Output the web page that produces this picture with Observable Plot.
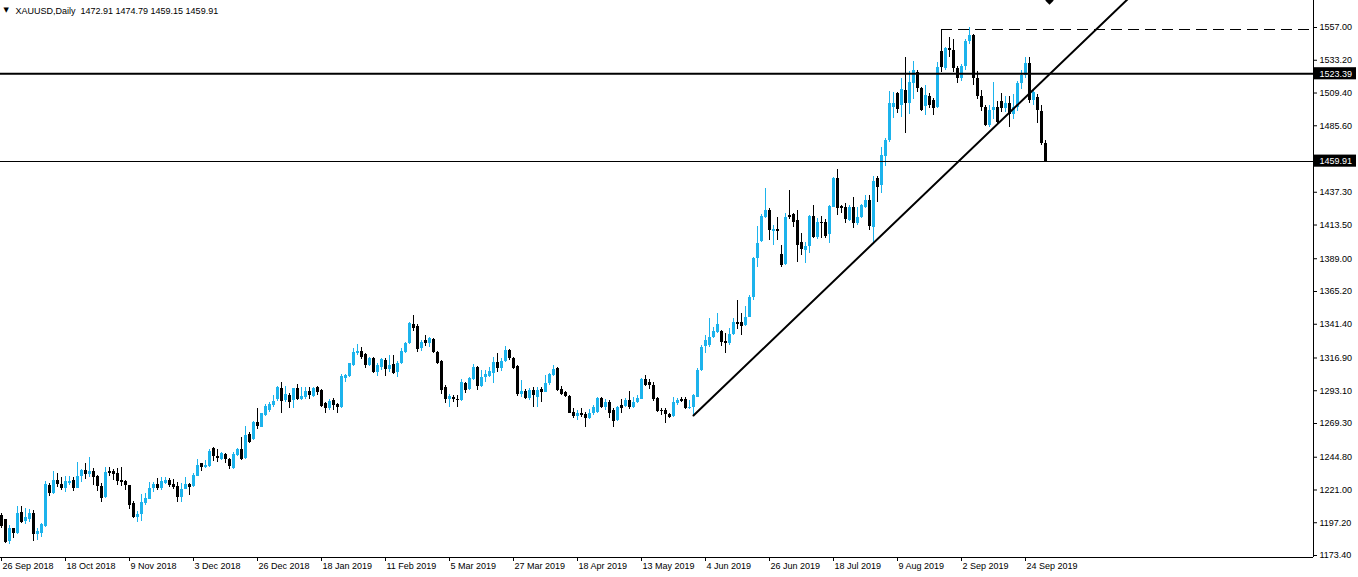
<!DOCTYPE html>
<html><head><meta charset="utf-8">
<script src="https://cdn.jsdelivr.net/npm/d3@7"></script>
<script src="https://cdn.jsdelivr.net/npm/@observablehq/plot@0.6"></script>
<style>
html,body{margin:0;padding:0;background:#fff;overflow:hidden;}
</style></head><body><div id="chart"></div>
<script>
// ---- data ----
const symbolName = "XAUUSD,Daily";
const tickBars = [0,16,32,48,64,80,96,112,128,144,160,176,192,208,224,240,256];
const tickLabels = ["26 Sep 2018","18 Oct 2018","9 Nov 2018","3 Dec 2018","26 Dec 2018","18 Jan 2019","11 Feb 2019","5 Mar 2019","27 Mar 2019","18 Apr 2019","13 May 2019","4 Jun 2019","26 Jun 2019","18 Jul 2019","9 Aug 2019","2 Sep 2019","24 Sep 2019"];
const yTicks = [1557.00,1533.20,1509.40,1485.60,1437.30,1413.50,1389.00,1365.20,1341.40,1316.90,1293.10,1269.30,1244.80,1221.00,1197.20,1173.40];

const open = [1202.5,1199.4,1183.9,1193.1,1189.2,1204.7,1198.4,1199.8,1204.2,1188.5,
1189.7,1194.8,1224.3,1218.2,1227.9,1224.8,1222.4,1225.5,1227.9,1222.4,
1230.8,1235.2,1232.3,1234.5,1230.8,1223.8,1215.6,1234.7,1234.7,1233.0,
1227.9,1227.2,1224.1,1211.5,1201.3,1203.5,1211.5,1214.4,1222.4,1224.8,
1221.9,1226.0,1227.9,1224.8,1223.6,1215.3,1221.4,1225.0,1223.8,1231.1,
1240.0,1237.4,1238.1,1251.2,1245.4,1242.9,1246.8,1243.4,1236.4,1246.1,
1250.4,1243.7,1261.4,1257.5,1269.8,1266.7,1275.1,1278.8,1282.4,1286.5,
1294.5,1286.0,1289.7,1286.0,1294.5,1287.0,1288.0,1292.8,1289.2,1295.2,
1293.3,1284.1,1280.0,1286.0,1283.1,1280.7,1301.8,1303.5,1311.5,1320.4,
1321.9,1319.5,1311.5,1316.3,1306.6,1310.3,1315.1,1308.3,1312.2,1306.6,
1312.7,1321.2,1327.2,1341.3,1339.8,1323.6,1329.6,1327.2,1330.1,1321.2,
1314.4,1295.2,1286.5,1288.5,1286.5,1286.0,1298.6,1293.8,1301.1,1310.3,
1296.2,1302.5,1303.5,1305.9,1313.4,1309.0,1314.6,1322.4,1316.3,1310.7,
1290.4,1292.8,1287.3,1293.3,1288.5,1293.8,1292.1,1298.1,1304.2,1309.0,
1293.8,1292.1,1289.2,1277.6,1274.4,1276.4,1275.9,1272.7,1276.4,1277.6,
1287.3,1281.2,1284.8,1278.8,1271.5,1282.4,1281.7,1286.0,1281.2,1284.8,
1286.8,1301.1,1299.4,1296.9,1287.3,1278.8,1278.8,1275.9,1274.4,1283.6,
1287.0,1286.5,1280.0,1280.7,1288.5,1307.8,1325.2,1325.9,1331.5,1335.6,
1336.1,1328.8,1327.1,1333.9,1342.6,1342.6,1340.4,1346.5,1360.6,1388.9,
1401.7,1419.2,1424.0,1409.0,1410.0,1392.0,1384.8,1420.4,1421.1,1416.7,
1401.0,1394.9,1397.9,1419.7,1404.1,1415.5,1415.5,1406.6,1426.4,1447.0,
1426.9,1426.4,1416.7,1426.4,1414.3,1419.2,1426.4,1431.3,1411.9,1447.0,
1442.2,1463.2,1474.9,1499.1,1509.3,1500.3,1511.2,1502.0,1516.0,1524.0,
1512.5,1499.6,1506.9,1504.0,1498.6,1539.6,1527.0,1542.0,1540.0,1527.0,
1520.0,1529.0,1547.0,1551.0,1520.0,1507.0,1499.0,1486.0,1497.0,1499.0,
1503.0,1498.0,1502.0,1494.0,1499.0,1516.0,1522.0,1531.0,1504.0,1506.0,
1496.0,1472.91];

const high = [1203.7,1199.6,1195.2,1193.3,1209.0,1209.0,1207.8,1206.6,1206.1,1192.8,
1196.5,1227.0,1225.5,1234.5,1232.8,1230.4,1230.8,1230.8,1230.4,1241.0,
1235.7,1240.0,1244.4,1236.9,1231.6,1225.5,1237.6,1237.1,1236.2,1236.9,
1237.1,1227.9,1224.6,1212.7,1205.7,1217.8,1218.2,1226.7,1226.2,1229.1,
1230.4,1229.9,1229.4,1228.9,1226.5,1225.5,1229.9,1226.0,1232.8,1243.0,
1240.4,1242.5,1250.5,1252.2,1250.2,1248.5,1247.3,1243.9,1248.5,1250.9,
1259.4,1267.2,1263.0,1271.0,1280.0,1276.8,1283.1,1284.8,1289.7,1296.2,
1299.4,1296.2,1291.4,1295.0,1297.7,1295.7,1295.7,1295.2,1295.2,1296.2,
1293.8,1284.8,1286.5,1287.3,1284.1,1304.9,1304.9,1313.2,1323.6,1326.7,
1324.3,1320.4,1317.5,1317.1,1312.7,1316.3,1316.3,1318.7,1318.7,1314.6,
1323.6,1328.4,1343.0,1347.8,1341.3,1329.6,1333.3,1332.1,1330.8,1321.9,
1315.1,1296.9,1290.4,1289.7,1289.7,1301.1,1299.4,1303.0,1312.2,1310.7,
1307.8,1307.8,1310.3,1317.5,1320.4,1316.3,1325.3,1322.9,1317.1,1311.2,
1300.6,1293.8,1294.5,1295.2,1295.2,1295.2,1304.2,1305.9,1311.2,1310.3,
1296.2,1292.8,1289.7,1280.0,1278.8,1280.0,1277.6,1279.3,1282.4,1288.0,
1288.0,1286.5,1286.0,1280.0,1281.7,1286.5,1287.3,1292.8,1288.5,1289.7,
1301.8,1304.2,1301.1,1299.4,1288.5,1280.0,1280.0,1276.4,1288.0,1287.3,
1288.0,1288.0,1286.0,1290.4,1309.0,1326.0,1333.2,1345.3,1339.2,1348.9,
1336.8,1334.4,1338.0,1345.3,1358.6,1348.9,1354.3,1362.2,1390.1,1412.4,
1421.1,1439.8,1425.2,1413.1,1418.7,1398.6,1421.6,1438.5,1422.1,1424.0,
1407.5,1401.0,1420.4,1427.6,1417.9,1419.7,1417.2,1427.6,1448.2,1453.6,
1427.6,1429.3,1427.6,1433.7,1426.4,1428.4,1434.9,1434.9,1448.7,1448.7,
1470.0,1476.1,1510.7,1510.0,1510.0,1519.7,1535.4,1525.0,1532.0,1526.0,
1513.7,1514.9,1508.8,1505.2,1531.8,1555.6,1542.5,1550.0,1548.0,1529.0,
1530.0,1548.0,1557.0,1552.0,1525.0,1511.0,1500.0,1500.0,1517.0,1503.0,
1509.0,1507.0,1507.0,1508.0,1518.0,1526.0,1535.0,1535.0,1512.0,1508.0,
1500.0,1474.79];

const low = [1192.8,1181.9,1181.4,1185.5,1188.8,1196.9,1196.0,1197.7,1183.9,1184.3,
1186.3,1194.0,1216.6,1217.8,1223.1,1220.7,1219.2,1224.3,1220.2,1222.0,
1226.2,1228.9,1230.4,1224.3,1220.2,1212.2,1214.6,1230.8,1227.9,1224.3,
1223.8,1220.7,1206.9,1200.6,1197.2,1198.4,1209.8,1214.0,1219.5,1220.7,
1220.7,1225.0,1223.1,1221.6,1212.2,1211.7,1221.0,1217.3,1223.1,1230.8,
1234.5,1236.9,1237.6,1241.8,1241.2,1242.4,1240.5,1235.7,1236.0,1245.4,
1242.4,1243.2,1254.6,1257.0,1264.7,1266.2,1274.4,1277.6,1281.2,1285.3,
1276.4,1284.8,1280.0,1280.0,1286.0,1286.0,1286.5,1286.5,1288.5,1289.7,
1281.2,1276.8,1278.8,1278.8,1276.8,1280.2,1299.4,1303.0,1310.7,1318.7,
1315.6,1309.0,1310.7,1305.9,1303.5,1307.8,1303.5,1306.6,1304.9,1303.0,
1312.2,1320.4,1326.7,1336.4,1321.2,1321.9,1325.3,1324.8,1320.4,1312.2,
1290.4,1283.6,1281.2,1284.8,1281.2,1285.6,1290.9,1293.3,1300.6,1293.3,
1295.7,1299.4,1302.5,1298.6,1306.6,1307.4,1313.9,1315.1,1308.3,1288.9,
1288.5,1286.5,1286.0,1281.2,1281.2,1284.8,1291.6,1296.9,1303.5,1292.8,
1289.7,1288.0,1276.4,1272.7,1271.5,1273.9,1266.7,1272.0,1275.1,1276.4,
1280.0,1278.8,1272.7,1266.7,1271.0,1276.4,1280.7,1279.3,1280.0,1283.6,
1286.5,1296.2,1293.8,1285.6,1277.6,1275.1,1269.6,1272.7,1273.5,1282.4,
1284.8,1279.3,1279.3,1275.1,1288.0,1307.3,1320.4,1324.7,1330.8,1334.4,
1325.2,1320.3,1325.9,1333.2,1337.3,1333.2,1340.0,1346.0,1358.6,1382.8,
1401.0,1418.0,1402.2,1398.6,1402.2,1382.4,1384.0,1417.2,1411.9,1386.5,
1391.3,1385.7,1392.5,1403.4,1402.7,1403.4,1403.4,1400.3,1425.9,1420.4,
1422.1,1414.3,1416.3,1410.7,1413.1,1418.0,1425.2,1409.5,1400.3,1430.1,
1436.6,1456.0,1473.7,1490.6,1494.7,1491.8,1479.7,1494.0,1505.0,1510.0,
1496.0,1493.1,1497.9,1493.1,1497.9,1524.0,1526.0,1535.0,1524.0,1516.0,
1518.0,1526.0,1545.0,1515.0,1505.0,1496.0,1485.0,1484.0,1490.0,1486.0,
1495.0,1495.0,1484.0,1490.0,1496.0,1512.0,1520.0,1502.0,1500.0,1487.0,
1471.0,1459.15];

const close = [1194.5,1183.1,1193.3,1189.2,1203.7,1197.7,1201.3,1204.2,1188.5,1190.9,
1196.0,1225.0,1218.7,1227.9,1224.8,1221.9,1227.5,1227.5,1222.4,1230.8,
1235.2,1232.3,1234.7,1230.4,1223.8,1215.1,1233.7,1233.3,1232.3,1227.5,
1226.7,1224.1,1209.8,1201.3,1203.2,1212.0,1214.6,1222.1,1224.8,1222.4,
1227.2,1227.9,1224.3,1222.6,1215.8,1221.2,1224.8,1222.6,1231.6,1239.1,
1237.6,1238.8,1249.0,1245.4,1243.7,1247.3,1242.9,1238.3,1246.8,1250.4,
1243.2,1260.6,1255.8,1270.3,1267.2,1276.4,1281.7,1283.1,1285.3,1295.2,
1285.3,1290.4,1284.8,1294.5,1286.5,1288.9,1292.8,1289.7,1294.5,1292.1,
1281.7,1280.0,1285.3,1282.4,1280.7,1303.5,1304.2,1312.7,1320.7,1321.9,
1317.5,1311.5,1316.3,1306.6,1311.5,1315.6,1308.3,1311.5,1305.9,1313.2,
1321.9,1327.7,1342.2,1338.1,1322.8,1328.4,1327.2,1330.8,1321.2,1313.2,
1293.3,1286.5,1289.2,1286.5,1286.0,1299.4,1293.3,1301.8,1310.3,1296.2,
1302.5,1304.9,1307.4,1313.4,1309.5,1314.6,1322.4,1316.3,1309.0,1290.4,
1292.8,1287.3,1293.3,1289.7,1293.3,1292.1,1298.6,1304.9,1308.3,1293.3,
1290.4,1288.9,1276.8,1274.4,1276.8,1275.1,1272.7,1276.8,1281.2,1287.3,
1281.2,1284.8,1276.8,1271.0,1280.7,1280.0,1286.0,1281.2,1284.8,1287.3,
1301.1,1296.9,1296.9,1286.5,1278.3,1278.3,1275.9,1273.9,1284.8,1286.0,
1285.6,1280.0,1281.2,1289.7,1307.8,1324.8,1329.6,1331.5,1336.3,1340.9,
1328.3,1327.1,1333.9,1342.9,1341.2,1340.0,1346.5,1361.0,1388.9,1400.3,
1419.7,1424.0,1409.5,1410.0,1409.0,1384.0,1418.7,1418.7,1415.5,1398.6,
1395.4,1397.9,1419.7,1404.1,1415.5,1414.3,1405.1,1426.9,1447.0,1425.2,
1425.2,1417.2,1426.4,1414.3,1419.2,1427.6,1431.3,1412.4,1445.3,1441.0,
1464.0,1474.9,1502.0,1502.0,1497.2,1511.7,1501.5,1517.0,1526.0,1513.0,
1496.7,1507.6,1500.3,1497.9,1528.0,1527.7,1542.0,1540.0,1527.0,1520.0,
1529.0,1547.0,1551.0,1520.0,1507.0,1499.0,1486.0,1497.0,1499.0,1488.0,
1498.0,1502.0,1494.0,1499.0,1516.0,1522.0,1531.0,1504.0,1510.0,1497.0,
1472.5,1459.91];

// drawn objects (price levels / trend line / arrow)
const levelThick = 1523.39;
const levelThin = 1459.91;
const levelDashed = 1555.6;
const dashStartBar = 235;
const trendBars = [173, 285];
const trendPrices = [1275.1, 1587.2];
const arrowBar = 262;

// ---- chart ----
const W = 1358, H = 577;
const xDomain = [-0.25, 328];
const yDomain = [1171.95, 1576.62];
const xMax = xDomain[1];
const bull = "#1cb3ec", bear = "#000000";
const FONT = "Liberation Sans, Arial, sans-serif";

const bars = open.map((o, i) => {
  const c = close[i];
  let lo = Math.min(o, c), hi = Math.max(o, c);
  if (hi - lo < 0.75) hi = lo + 0.75;
  return {i, o, h: high[i], l: low[i], c, lo, hi, up: c > o};
});
const last = bars[bars.length - 1];
const titleText = `${symbolName}  ${last.o.toFixed(2)} ${last.h.toFixed(2)} ${last.l.toFixed(2)} ${last.c.toFixed(2)}`;
const levels = [levelThick, levelThin];
const trend = trendBars.map((b, k) => ({b, p: trendPrices[k]}));

const chart = Plot.plot({
  width: W, height: H,
  marginLeft: 0, marginRight: 45, marginTop: 0, marginBottom: 20,
  x: {type: "linear", domain: xDomain, axis: null},
  y: {type: "linear", domain: yDomain, axis: null},
  style: {background: "#ffffff", fontFamily: FONT, fontSize: "9px", color: "#000"},
  marks: [
    // wicks
    Plot.ruleX(bars, {x: "i", y1: "l", y2: "h", stroke: d => d.up ? bull : bear, strokeWidth: 1, shapeRendering: "crispEdges"}),
    // bodies
    Plot.ruleX(bars, {x: "i", y1: "lo", y2: "hi", stroke: d => d.up ? bull : bear, strokeWidth: 3, shapeRendering: "crispEdges"}),
    // horizontal levels
    Plot.ruleY([levelThick], {stroke: "#000", strokeWidth: 2}),
    Plot.ruleY([levelThin], {stroke: "#000", strokeWidth: 1, shapeRendering: "crispEdges"}),
    Plot.ruleY([levelDashed], {x1: () => dashStartBar, x2: () => xMax, stroke: "#000", strokeWidth: 1, strokeDasharray: "11,6", shapeRendering: "crispEdges"}),
    // trend line
    Plot.line(trend, {x: "b", y: "p", stroke: "#000", strokeWidth: 2, clip: true}),
    // arrow object at top edge
    Plot.dot([arrowBar], {x: d => d, y: () => yDomain[1], symbol: "diamond2", r: 3.8, fill: "#000", stroke: "none"}),
    // frame lines (bottom + right)
    Plot.ruleY([yDomain[0]], {stroke: "#000", strokeWidth: 1}),
    Plot.ruleX([xMax], {stroke: "#000", strokeWidth: 1}),
    // y ticks and labels
    Plot.ruleY(yTicks, {x1: () => xMax, x2: () => xMax + 1, stroke: "#000", strokeWidth: 1}),
    Plot.text(yTicks, {x: () => xMax, y: d => d, text: d => d.toFixed(2), textAnchor: "start", dx: 6, fontSize: 9, fill: "#000"}),
    // level labels on the axis
    Plot.rect(levels, {x1: () => xMax + 0.25, x2: () => xMax + 10.75, y1: d => d - 4.4, y2: d => d + 4.4, fill: "#000"}),
    Plot.text(levels, {x: () => xMax, y: d => d, text: d => d.toFixed(2), textAnchor: "start", dx: 6, fontSize: 9, fill: "#fff"}),
    // x ticks and labels
    Plot.ruleX(tickBars, {x: d => d, y1: () => yDomain[0], y2: () => yDomain[0] - 2.9, stroke: "#000", strokeWidth: 1}),
    Plot.text(tickBars, {x: d => d, y: () => yDomain[0], text: (d, k) => tickLabels[k], textAnchor: "start", dx: 1, dy: 9, fontSize: 9, fill: "#000"}),
    // title
    Plot.text([titleText], {frameAnchor: "top-left", text: d => d, textAnchor: "start", dx: 15, dy: 7, fontSize: 9, fill: "#000"}),
    Plot.text(["\u25BC"], {frameAnchor: "top-left", text: d => d, textAnchor: "start", dx: 3, dy: 7, fontSize: 7, fontFamily: "DejaVu Sans", fill: "#000"})
  ]
});
document.getElementById("chart").appendChild(chart);
</script>
</body></html>
